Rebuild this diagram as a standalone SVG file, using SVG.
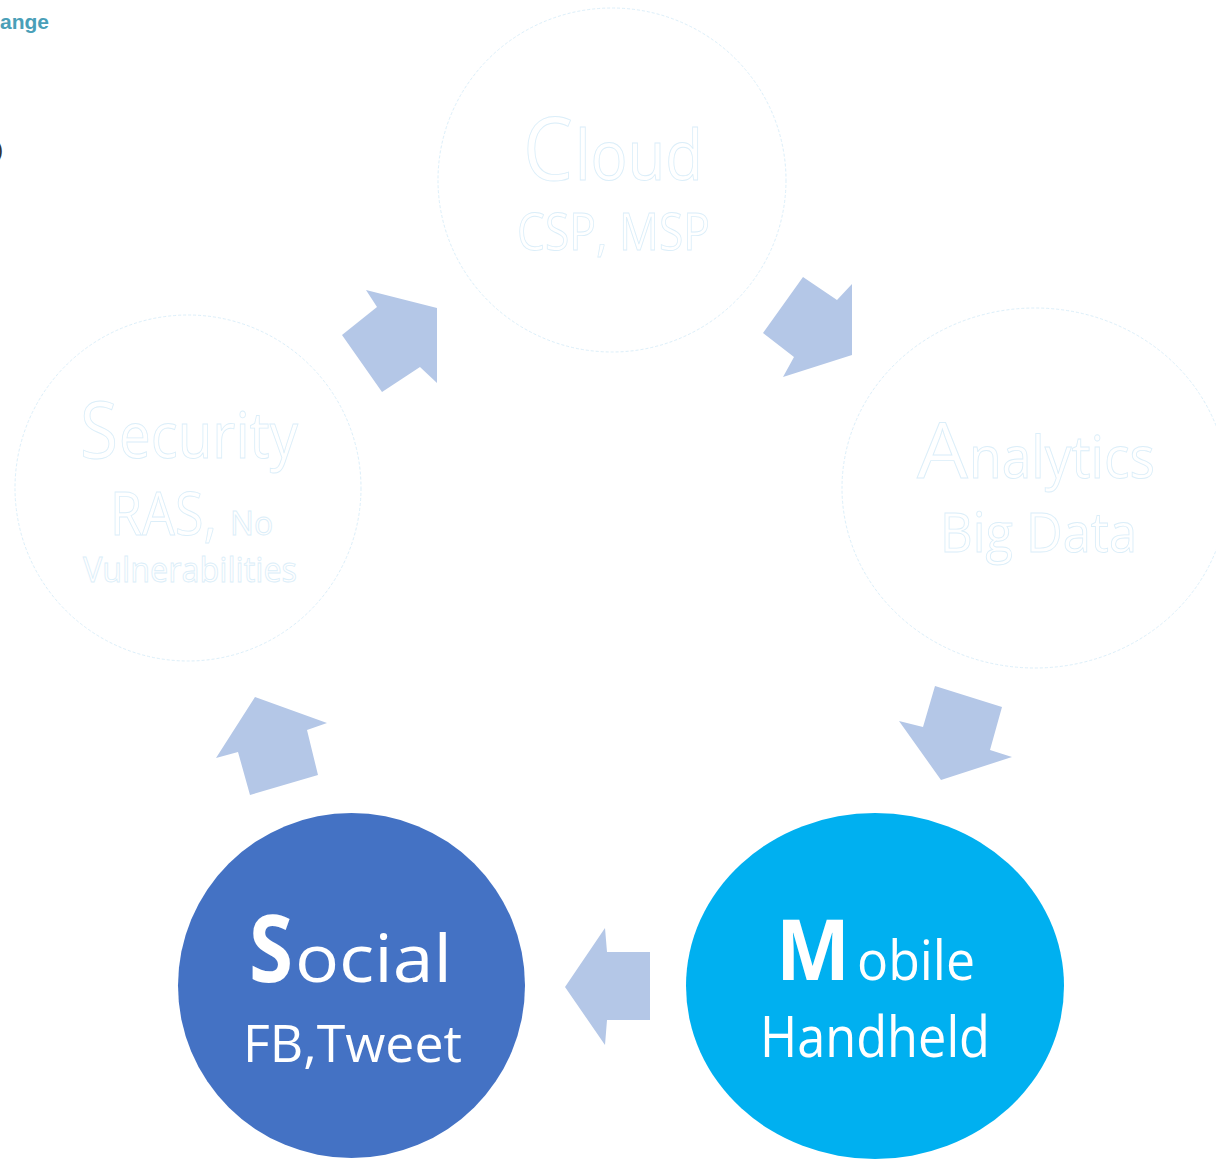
<svg xmlns="http://www.w3.org/2000/svg" width="1216" height="1159" viewBox="0 0 1216 1159">
  <style>
    text { font-family: "Open Sans", "Liberation Sans", sans-serif; }
    .ghost { fill: #ffffff; stroke: #dcefFA; stroke-width: 1; stroke-dasharray: 3 2; }
    .gtext { fill: #ffffff; stroke: #dbeef9; stroke-width: 0.9; }
    .wtext { fill: #ffffff; }
    .arrow { fill: #b4c7e7; }
  </style>
  <rect width="1216" height="1159" fill="#ffffff"/>

  <text x="49" y="29" text-anchor="end" font-weight="bold" font-size="21" fill="#4a9fb8" style="font-family: 'Liberation Sans', sans-serif">ange</text>
  <text x="3" y="157" text-anchor="end" font-size="22" fill="#333333" style="font-family: 'Liberation Sans', sans-serif">)</text>

  <g id="connectors">
    <polygon class="arrow" points="366,290 437,308 437,383 420,367 382,392 342,335 377,307"/>
    <polygon class="arrow" points="803,277 837,300 852,284 852,355 783,377 794,357 763,333"/>
    <polygon class="arrow" points="935,686 1002,707 990,750 1012,757 941,780 899,721 923,727"/>
    <polygon class="arrow" points="255,697 327,723 307,730 318,775 250,795 238,752 216,758"/>
    <polygon class="arrow" points="565,987 605,928 607,952 650,952 650,1020 607,1020 605,1045"/>
  </g>

  <g id="cloud">
    <ellipse class="ghost" cx="612" cy="180" rx="174" ry="172"/>
    <text class="gtext"><tspan x="523" y="180" font-size="88" textLength="50" lengthAdjust="spacingAndGlyphs">C</tspan><tspan x="575" y="180" font-size="69" textLength="128" lengthAdjust="spacingAndGlyphs">loud</tspan><tspan x="517" y="250" font-size="52" textLength="193" lengthAdjust="spacingAndGlyphs">CSP, MSP</tspan></text>
  </g>

  <g id="analytics">
    <ellipse class="ghost" cx="1035" cy="488" rx="193" ry="180"/>
    <text class="gtext"><tspan x="917" y="478" font-size="77" textLength="51" lengthAdjust="spacingAndGlyphs">A</tspan><tspan x="969" y="478" font-size="58" textLength="186" lengthAdjust="spacingAndGlyphs">nalytics</tspan><tspan x="940" y="552" font-size="54" textLength="197" lengthAdjust="spacingAndGlyphs">Big Data</tspan></text>
  </g>

  <g id="security">
    <ellipse class="ghost" cx="188" cy="488" rx="173" ry="173"/>
    <text class="gtext" y="458"><tspan x="80" font-size="78" textLength="38" lengthAdjust="spacingAndGlyphs">S</tspan><tspan x="119" font-size="64" textLength="179" lengthAdjust="spacingAndGlyphs">ecurity</tspan></text>
    <text class="gtext" y="535"><tspan x="110" font-size="60" textLength="107" lengthAdjust="spacingAndGlyphs">RAS,</tspan><tspan x="230" font-size="32" textLength="43" lengthAdjust="spacingAndGlyphs">No</tspan></text>
    <text class="gtext" x="83" y="582" font-size="35" textLength="214" lengthAdjust="spacingAndGlyphs">Vulnerabilities</text>
  </g>

  <g id="social">
    <ellipse cx="351.5" cy="985.5" rx="173.5" ry="172.5" fill="#4472c4"/>
    <text class="wtext" y="982"><tspan x="249" font-size="94" font-weight="bold" textLength="44" lengthAdjust="spacingAndGlyphs">S</tspan><tspan x="295" font-size="66" textLength="157" lengthAdjust="spacingAndGlyphs">ocial</tspan></text>
    <text class="wtext" x="243" y="1062" font-size="52" textLength="219" lengthAdjust="spacingAndGlyphs">FB,Tweet</text>
  </g>

  <g id="mobile">
    <ellipse cx="875" cy="986" rx="189" ry="173" fill="#00b0f0"/>
    <text class="wtext" y="980"><tspan x="776" font-size="84" font-weight="bold" textLength="74" lengthAdjust="spacingAndGlyphs">M</tspan><tspan x="857" font-size="54" textLength="118" lengthAdjust="spacingAndGlyphs">obile</tspan></text>
    <text class="wtext" x="760" y="1057" font-size="56" textLength="230" lengthAdjust="spacingAndGlyphs">Handheld</text>
  </g>
</svg>
